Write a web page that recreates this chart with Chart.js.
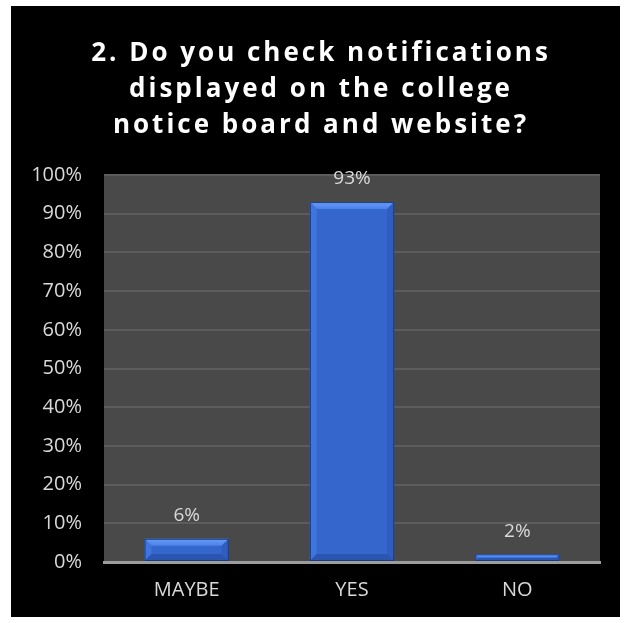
<!DOCTYPE html>
<html>
<head>
<meta charset="utf-8">
<script src="https://cdn.jsdelivr.net/npm/chart.js@4"></script>
<style>
  body { margin: 0; background: #ffffff; }
  #box { position: absolute; left: 11px; top: 6px; width: 609px; height: 611px; background: #000000; }
</style>
</head>
<body>
<div id="box"><canvas id="barChart" width="609" height="611"></canvas></div>
<script>
var categories = ['MAYBE', 'YES', 'NO'];
var values = [6, 93, 2];
var yTicks = [0, 10, 20, 30, 40, 50, 60, 70, 80, 90, 100];
var titleLines = ['2. Do you check notifications', 'displayed on the college', 'notice board and website?'];

// grey plot area behind the bars
const plotBg = {
  id: 'plotBg',
  beforeDraw(chart) {
    const a = chart.chartArea, c = chart.ctx;
    c.save();
    c.fillStyle = '#494949';
    c.fillRect(a.left, a.top, a.right - a.left, a.bottom - a.top);
    c.restore();
  }
};

function quad(c, pts, fill) {
  c.beginPath();
  c.moveTo(pts[0][0], pts[0][1]);
  for (var i = 1; i < pts.length; i++) c.lineTo(pts[i][0], pts[i][1]);
  c.closePath();
  c.fillStyle = fill;
  c.fill();
}

// bevelled look of the bars + value labels above them
const bevelAndLabels = {
  id: 'bevelAndLabels',
  afterDatasetsDraw(chart) {
    const c = chart.ctx;
    const meta = chart.getDatasetMeta(0);
    c.save();
    meta.data.forEach(function(bar) {
      const l = bar.x - bar.width / 2, r = bar.x + bar.width / 2;
      const t = bar.y, btm = bar.base;
      const b = Math.min(7, (btm - t) / 2);
      const g = c.createLinearGradient(0, t, 0, t + b);
      g.addColorStop(0, '#6a9cf6');
      g.addColorStop(1, '#4b82ea');
      quad(c, [[l, t], [r, t], [r - b, t + b], [l + b, t + b]], g);
      quad(c, [[l, t], [l + b, t + b], [l + b, btm - b], [l, btm]], '#3f75de');
      quad(c, [[r, t], [r - b, t + b], [r - b, btm - b], [r, btm]], '#2f5dc0');
      quad(c, [[l, btm], [l + b, btm - b], [r - b, btm - b], [r, btm]], '#2a55b0');
      c.strokeStyle = '#1c3c7a';
      c.lineWidth = 1;
      c.strokeRect(l + 0.5, t + 0.5, r - l - 1, btm - t - 1);
    });
    c.fillStyle = '#d9d9d9';
    c.font = '19px "Open Sans"';
    c.textAlign = 'center';
    c.textBaseline = 'middle';
    meta.data.forEach(function(bar, i) {
      c.fillText(values[i] + '%', bar.x, bar.y - 23);
    });
    c.restore();
  }
};

// bold, letter-spaced title over the plot
const spacedTitle = {
  id: 'spacedTitle',
  afterDraw(chart) {
    const c = chart.ctx;
    c.save();
    c.letterSpacing = '3px';
    c.fillStyle = '#ffffff';
    c.font = 'bold 26px "Open Sans"';
    c.textAlign = 'center';
    c.textBaseline = 'middle';
    titleLines.forEach(function(line, i) {
      c.fillText(line, 310, 48 + i * 36);
    });
    c.restore();
  }
};

var ctxBar = document.getElementById('barChart');
const config_bar = {
  type: 'bar',
  data: {
    labels: categories,
    datasets: [{
      data: values,
      backgroundColor: '#3566cc',
      borderWidth: 0,
      barPercentage: 0.51,
      categoryPercentage: 1
    }]
  },
  options: {
    responsive: false,
    animation: false,
    layout: { padding: { left: 0, right: 20, top: 169, bottom: 0 } },
    plugins: {
      legend: { display: false },
      tooltip: { enabled: false },
      title: { display: false }
    },
    scales: {
      x: {
        grid: { display: false, drawTicks: false },
        border: { display: true, color: '#9c9c9c', width: 3 },
        ticks: { color: '#d9d9d9', font: { family: '"Open Sans"', size: 20 }, padding: 16 },
        afterFit(scale) { scale.height = 55; }
      },
      y: {
        min: 0,
        max: 100,
        afterBuildTicks(scale) { scale.ticks = yTicks.map(function(v) { return { value: v }; }); },
        grid: { color: '#5c5c5c', lineWidth: 2, drawTicks: false },
        border: { display: false },
        ticks: {
          color: '#d9d9d9',
          font: { family: '"Open Sans"', size: 20 },
          padding: 22,
          callback: function(v) { return v + '%'; }
        },
        afterFit(scale) { scale.width = 93; }
      }
    }
  },
  plugins: [plotBg, bevelAndLabels, spacedTitle]
};

var barChart = new Chart(ctxBar, config_bar);
</script>
</body>
</html>
